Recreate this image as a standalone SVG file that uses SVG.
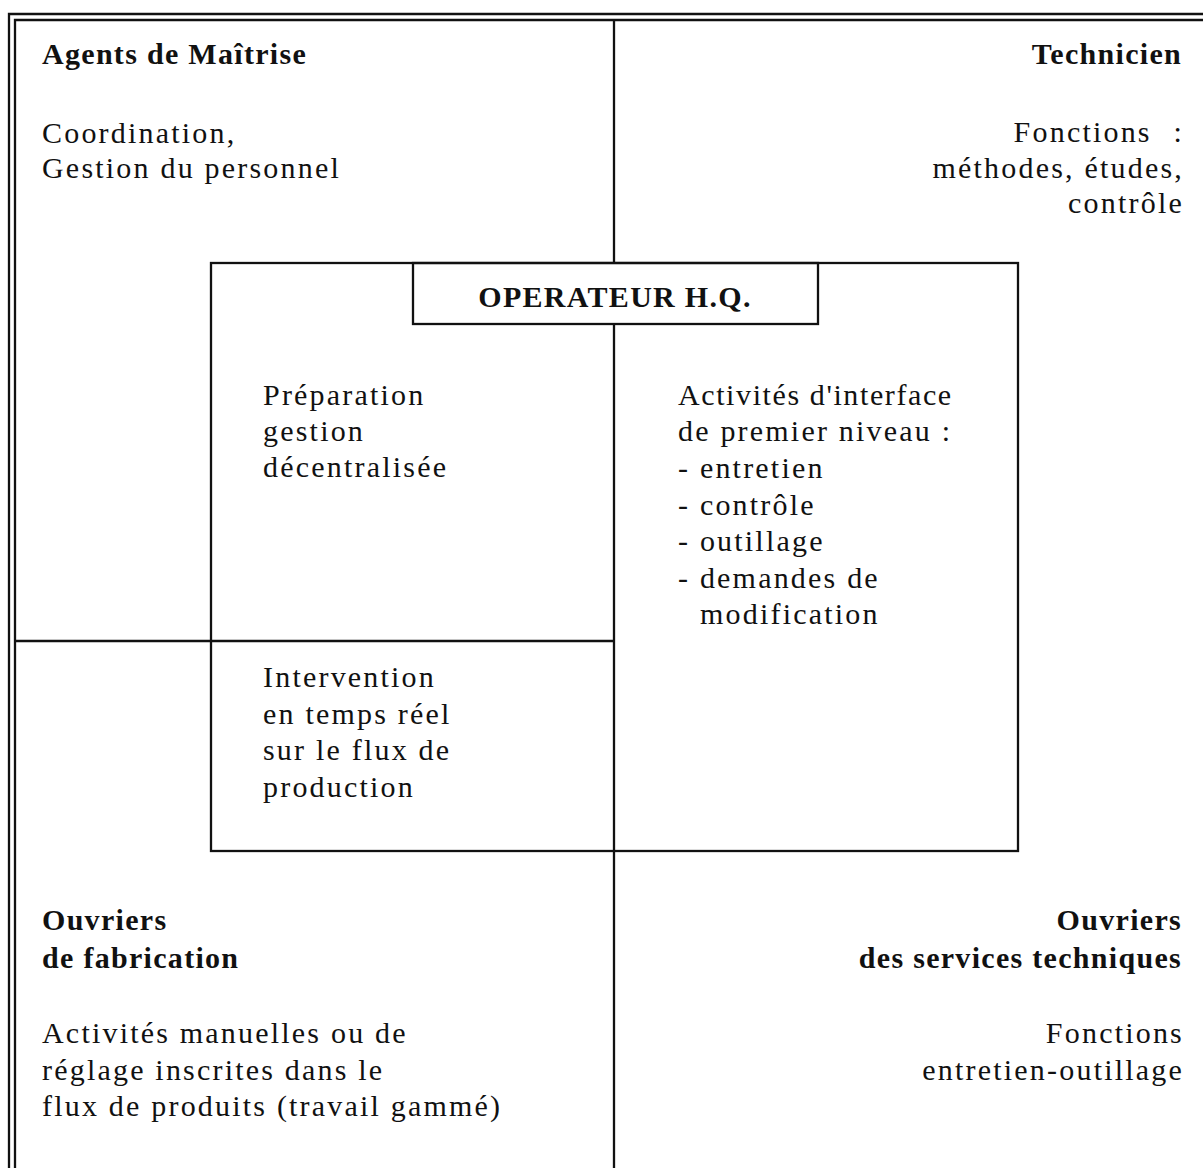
<svg xmlns="http://www.w3.org/2000/svg" width="1203" height="1168" viewBox="0 0 1203 1168">
<style>
.t{font-family:"Liberation Serif","Times New Roman",serif;font-size:30px;fill:#111;letter-spacing:2.2px}
.b{font-weight:bold;letter-spacing:1.3px}
.r{text-anchor:end}
.m{text-anchor:middle}
.ln{stroke:#111;stroke-width:2.3;fill:none}
</style>
<rect width="1203" height="1168" fill="#fff"/>
<g id="frame">
<path class="ln" d="M9,1168 V14 H1203"/>
<path class="ln" d="M15,1168 V20 H1203"/>
</g>
<g id="connectors">
<path class="ln" d="M614,20 V263"/>
<path class="ln" d="M614,324 V1168"/>
<path class="ln" d="M15,641 H614"/>
</g>
<g id="agents">
<text class="t b" x="42" y="64">Agents de Maîtrise</text>
<text class="t" x="42" y="143">Coordination,</text>
<text class="t" x="42" y="178">Gestion du personnel</text>
</g>
<g id="technicien">
<text class="t b r" x="1182" y="64">Technicien</text>
<text class="t r" x="1184" y="142">Fonctions<tspan dx="12"> :</tspan></text>
<text class="t r" x="1184" y="178">méthodes, études,</text>
<text class="t r" x="1184" y="213">contrôle</text>
</g>
<g id="operateur">
<rect class="ln" x="211" y="263" width="807" height="588"/>
<rect class="ln" x="413" y="263" width="405" height="61"/>
<text class="t b m" x="615" y="307">OPERATEUR H.Q.</text>
<text class="t" x="263" y="405">Préparation</text>
<text class="t" x="263" y="441">gestion</text>
<text class="t" x="263" y="477">décentralisée</text>
<text class="t" x="263" y="687">Intervention</text>
<text class="t" x="263" y="724">en temps réel</text>
<text class="t" x="263" y="760">sur le flux de</text>
<text class="t" x="263" y="797">production</text>
<text class="t" x="678" y="405" style="letter-spacing:1.6px">Activités d'interface</text>
<text class="t" x="678" y="441">de premier niveau :</text>
<text class="t" x="678" y="478">- entretien</text>
<text class="t" x="678" y="515">- contrôle</text>
<text class="t" x="678" y="551">- outillage</text>
<text class="t" x="678" y="588">- demandes de</text>
<text class="t" x="700" y="624">modification</text>
</g>
<g id="ouvriers-fabrication">
<text class="t b" x="42" y="930">Ouvriers</text>
<text class="t b" x="42" y="968">de fabrication</text>
<text class="t" x="42" y="1043">Activités manuelles ou de</text>
<text class="t" x="42" y="1080">réglage inscrites dans le</text>
<text class="t" x="42" y="1116">flux de produits (travail gammé)</text>
</g>
<g id="ouvriers-services">
<text class="t b r" x="1182" y="930">Ouvriers</text>
<text class="t b r" x="1182" y="968">des services techniques</text>
<text class="t r" x="1184" y="1043">Fonctions</text>
<text class="t r" x="1184" y="1080">entretien-outillage</text>
</g>
</svg>
